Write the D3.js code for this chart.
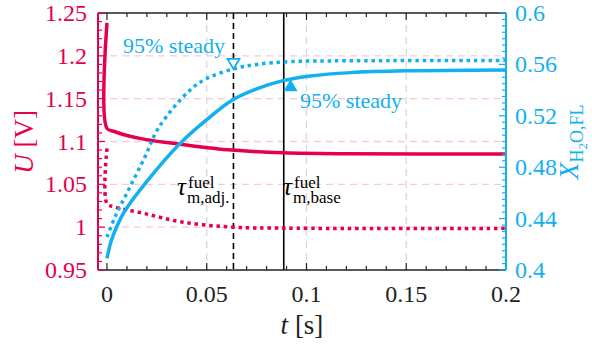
<!DOCTYPE html>
<html>
<head>
<meta charset="utf-8">
<script src="https://cdn.jsdelivr.net/npm/d3@7"></script>
<style>
  body { margin: 0; background: #fff; }
  text, tspan { font-family: 'Liberation Serif', 'Tinos', 'FreeSerif' !important; }
</style>
</head>
<body>
<svg id="chart" width="592" height="345"></svg>
<script>
// data
let xTicks = [0, 0.05, 0.1, 0.15, 0.2];
let xTickLabels = ["0", "0.05", "0.1", "0.15", "0.2"];
let uTicks = [0.95, 1, 1.05, 1.1, 1.15, 1.2, 1.25];
let uTickLabels = ["0.95", "1", "1.05", "1.1", "1.15", "1.2", "1.25"];
let xhTicks = [0.4, 0.44, 0.48, 0.52, 0.56, 0.6];
let xhTickLabels = ["0.4", "0.44", "0.48", "0.52", "0.56", "0.6"];

// cell voltage, base case (solid) and adjusted case (dotted)
let uBaseT = [0, 0, 0.004, 0.01, 0.019, 0.0375, 0.0625, 0.0886, 0.12, 0.2];
let uBaseV = [1.2386, 1.1153, 1.1114, 1.107, 1.1025, 1.0966, 1.090, 1.0868, 1.0857, 1.0855];
let uAdjT = [0, 0, 0.004, 0.019, 0.0375, 0.0625, 0.09, 0.2];
let uAdjV = [1.0919, 1.0275, 1.0235, 1.0158, 1.006, 1.0001, 0.9988, 0.9986];

// water fraction in fuel line, base (solid) and adjusted (dotted)
let xhBaseT = [0, 0.002, 0.005, 0.0082, 0.012, 0.019, 0.0275, 0.0366, 0.05, 0.0625, 0.075, 0.0883, 0.102, 0.122, 0.15, 0.2];
let xhBaseV = [0.409, 0.422, 0.434, 0.444, 0.453, 0.467, 0.483, 0.4985, 0.517, 0.532, 0.541, 0.5474, 0.551, 0.5536, 0.555, 0.5557];
let xhAdjT = [0, 0.004, 0.0107, 0.019, 0.026, 0.0416, 0.05, 0.0634, 0.075, 0.092, 0.12, 0.2];
let xhAdjV = [0.4256, 0.4412, 0.462, 0.488, 0.511, 0.540, 0.549, 0.5565, 0.5600, 0.5622, 0.5628, 0.563];

let tauAdj = 0.0634, tauBase = 0.0886;
let steadyAdj = {t: 0.0634, v: 0.5565};
let steadyBase = {t: 0.092, v: 0.5485};

let red = "#e6004c", blue = "#12b0f0";
let pLeft = 98, pRight = 506, pTop = 13, pBottom = 270;
let face = "'Liberation Serif'";

let svg = d3.select("#chart").style("font-family", face);

let x = d3.scaleLinear().domain([-0.0045, 0.2]).range([pLeft, pRight]);
let yU = d3.scaleLinear().domain([0.95, 1.25]).range([pBottom, pTop]);
let yX = d3.scaleLinear().domain([0.4, 0.6]).range([pBottom, pTop]);

// grid
svg.append("g").selectAll("line")
    .data(xTicks.slice(1, 4))
    .enter().append("line")
    .attr("x1", d => x(d)).attr("x2", d => x(d))
    .attr("y1", pTop).attr("y2", pBottom)
    .attr("stroke", "#d8d8d8").attr("stroke-width", 1.3)
    .attr("stroke-dasharray", "7,5");

svg.append("g").selectAll("line")
    .data(uTicks.slice(1, 6))
    .enter().append("line")
    .attr("x1", pLeft).attr("x2", pRight)
    .attr("y1", d => yU(d)).attr("y2", d => yU(d))
    .attr("stroke", "#f7c9d7").attr("stroke-width", 1.3)
    .attr("stroke-dasharray", "7,5");

// tau lines
svg.append("line")
    .attr("x1", x(tauAdj)).attr("x2", x(tauAdj))
    .attr("y1", pTop).attr("y2", pBottom)
    .attr("stroke", "#000").attr("stroke-width", 1.6)
    .attr("stroke-dasharray", "6,4");
svg.append("line")
    .attr("x1", x(tauBase)).attr("x2", x(tauBase))
    .attr("y1", pTop).attr("y2", pBottom)
    .attr("stroke", "#000").attr("stroke-width", 1.6);

// curves
let zip = (ts, vs) => ts.map((t, i) => [t, vs[i]]);
let lineU = d3.line().x(d => x(d[0])).y(d => yU(d[1])).curve(d3.curveCatmullRom.alpha(0.5));
let lineX = d3.line().x(d => x(d[0])).y(d => yX(d[1])).curve(d3.curveCatmullRom.alpha(0.5));

svg.append("path").attr("d", lineU(zip(uBaseT, uBaseV)))
    .attr("fill", "none").attr("stroke", red).attr("stroke-width", 3.5);
svg.append("path").attr("d", lineU(zip(uAdjT, uAdjV)))
    .attr("fill", "none").attr("stroke", red).attr("stroke-width", 3.5)
    .attr("stroke-dasharray", "3.5,3.8");
svg.append("path").attr("d", lineX(zip(xhBaseT, xhBaseV)))
    .attr("fill", "none").attr("stroke", blue).attr("stroke-width", 3.5);
svg.append("path").attr("d", lineX(zip(xhAdjT, xhAdjV)))
    .attr("fill", "none").attr("stroke", blue).attr("stroke-width", 3.5)
    .attr("stroke-dasharray", "3.5,3.8");

// 95% markers
let ax = x(steadyAdj.t), ay = yX(steadyAdj.v);
svg.append("path")
    .attr("d", `M${ax},${ay}L${ax - 6},${ay - 10}L${ax + 6},${ay - 10}Z`)
    .attr("fill", "#fff").attr("stroke", blue).attr("stroke-width", 1.8);
let bx = x(steadyBase.t), by = yX(steadyBase.v);
svg.append("path")
    .attr("d", `M${bx},${by}L${bx - 7},${by + 12}L${bx + 7},${by + 12}Z`)
    .attr("fill", blue);

svg.append("text").attr("x", 123).attr("y", 53).style("font-family", face)
    .attr("font-size", 22).attr("fill", blue).text("95% steady");
svg.append("text").attr("x", 300).attr("y", 108).style("font-family", face)
    .attr("font-size", 22).attr("fill", blue).text("95% steady");

// tau labels
function tauLabel(xp, sub) {
    let t = svg.append("text").attr("x", xp).attr("y", 195)
        .style("font-family", face).attr("fill", "#000");
    t.append("tspan").attr("font-size", 25).attr("font-style", "italic").text("τ");
    t.append("tspan").attr("x", xp + 11).attr("dy", -7).attr("font-size", 17).text("fuel");
    t.append("tspan").attr("x", xp + 10).attr("dy", 15).attr("font-size", 17).text(sub);
}
tauLabel(177, "m,adj.");
tauLabel(283, "m,base");

// frame top / bottom
svg.append("line").attr("x1", pLeft).attr("x2", pRight).attr("y1", pBottom).attr("y2", pBottom)
    .attr("stroke", "#222").attr("stroke-width", 1.5);
svg.append("line").attr("x1", pLeft).attr("x2", pRight).attr("y1", pTop).attr("y2", pTop)
    .attr("stroke", "#222").attr("stroke-width", 1.5);

let minorT = d3.range(0, 21).map(i => i * 0.01);
let xt = svg.append("g");
minorT.forEach((v, i) => {
    let len = i % 5 === 0 ? 7 : 4;
    xt.append("line").attr("x1", x(v)).attr("x2", x(v)).attr("y1", pBottom).attr("y2", pBottom - len)
        .attr("stroke", "#222").attr("stroke-width", 1.2);
    xt.append("line").attr("x1", x(v)).attr("x2", x(v)).attr("y1", pTop).attr("y2", pTop + len)
        .attr("stroke", "#222").attr("stroke-width", 1.2);
});
svg.append("g").selectAll("text")
    .data(xTicks).enter().append("text")
    .attr("x", d => x(d)).attr("y", 302).style("font-family", face)
    .attr("text-anchor", "middle").attr("font-size", 24).attr("fill", "#222")
    .text((d, i) => xTickLabels[i]);

// left axis (U)
let ul = svg.append("g");
ul.append("line").attr("x1", pLeft).attr("x2", pLeft).attr("y1", pTop).attr("y2", pBottom)
    .attr("stroke", red).attr("stroke-width", 2);
d3.range(0, 31).map(i => 0.95 + i * 0.01).forEach((v, i) => {
    let len = i % 5 === 0 ? 7 : 4;
    ul.append("line").attr("x1", pLeft).attr("x2", pLeft + len).attr("y1", yU(v)).attr("y2", yU(v))
        .attr("stroke", red).attr("stroke-width", 1.2);
});
ul.selectAll("text").data(uTicks).enter().append("text")
    .attr("x", 87).attr("y", d => yU(d) + 8).style("font-family", face)
    .attr("text-anchor", "end").attr("font-size", 24).attr("fill", red)
    .text((d, i) => uTickLabels[i]);

// right axis (X)
let xr = svg.append("g");
xr.append("line").attr("x1", pRight).attr("x2", pRight).attr("y1", pTop).attr("y2", pBottom)
    .attr("stroke", blue).attr("stroke-width", 2);
d3.range(0, 41).map(i => 0.4 + i * 0.005).forEach((v, i) => {
    let len = i % 8 === 0 ? 7 : 4;
    xr.append("line").attr("x1", pRight).attr("x2", pRight - len).attr("y1", yX(v)).attr("y2", yX(v))
        .attr("stroke", blue).attr("stroke-width", 1.2);
});
xr.selectAll("text").data(xhTicks).enter().append("text")
    .attr("x", 515).attr("y", d => yX(d) + 8).style("font-family", face)
    .attr("text-anchor", "start").attr("font-size", 24).attr("fill", blue)
    .text((d, i) => xhTickLabels[i]);

// axis titles
let tl = svg.append("text").attr("x", 302).attr("y", 334).style("font-family", face)
    .attr("text-anchor", "middle").attr("font-size", 27).attr("fill", "#222");
tl.append("tspan").attr("font-style", "italic").text("t");
tl.append("tspan").text(" [s]");

let ulab = svg.append("text").attr("transform", "translate(33,142) rotate(-90)")
    .style("font-family", face)
    .attr("text-anchor", "middle").attr("font-size", 27).attr("fill", red);
ulab.append("tspan").attr("font-style", "italic").text("U");
ulab.append("tspan").text(" [V]");

let xlab = svg.append("text").attr("transform", "translate(578,142) rotate(-90)")
    .style("font-family", face)
    .attr("text-anchor", "middle").attr("font-size", 28).attr("fill", blue);
xlab.append("tspan").attr("font-style", "italic").text("X");
xlab.append("tspan").attr("font-size", 18).attr("dy", 5).text("H");
xlab.append("tspan").attr("font-size", 13).attr("dy", 4).text("2");
xlab.append("tspan").attr("font-size", 18).attr("dy", -4).text("O,FL");
</script>
</body>
</html>
